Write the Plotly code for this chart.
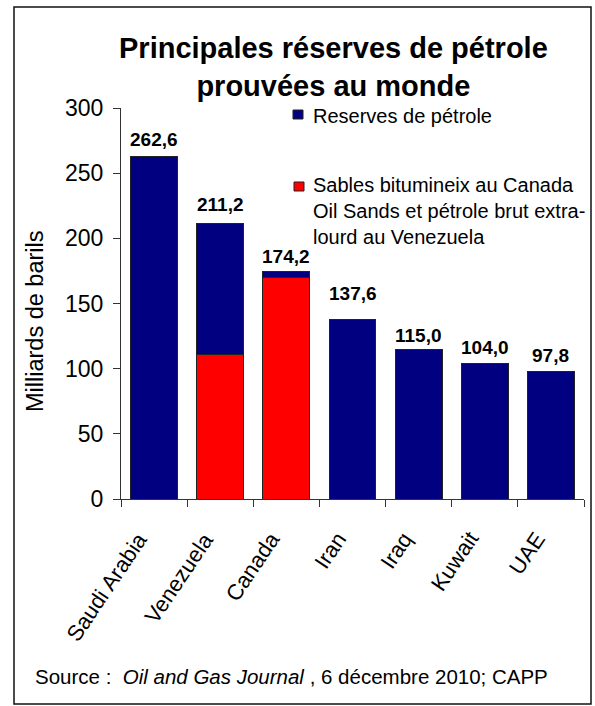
import plotly.graph_objects as go

# Proven oil reserves, billions of barrels (end of 2010)
countries = ["Saudi Arabia", "Venezuela", "Canada", "Iran", "Iraq", "Kuwait", "UAE"]
totals = [262.6, 211.2, 174.2, 137.6, 115.0, 104.0, 97.8]
# Canadian oil sands and Venezuelan extra-heavy crude
oil_sands = [0.0, 111.0, 170.0, 0.0, 0.0, 0.0, 0.0]
# Remaining conventional reserves
conventional = [round(t - s, 1) for t, s in zip(totals, oil_sands)]
total_labels = ["262,6", "211,2", "174,2", "137,6", "115,0", "104,0", "97,8"]
label_shift = [17, 19, 15, 26, 14, 16, 16]

y_ticks = [0, 50, 100, 150, 200, 250, 300]

W, H = 595, 706
ML, MR, MT, MB = 121, 11, 108, 207
PW, PH = W - ML - MR, H - MT - MB

FONT = "Arial, 'Liberation Sans', Helvetica, sans-serif"
NAVY = "#000080"
RED = "#FF0000"
EDGE = "#222222"


def xp(px):
    return (px - ML) / PW


def yp(py):
    return (H - MB - py) / PH


fig = go.Figure()
fig.add_trace(go.Bar(
    x=countries, y=oil_sands, marker=dict(color=RED, line=dict(color=EDGE, width=1)),
    name="Sables bitumineux", showlegend=False, hoverinfo="skip",
))
fig.add_trace(go.Bar(
    x=countries, y=conventional, marker=dict(color=NAVY, line=dict(color=EDGE, width=1)),
    name="Reserves de pétrole", showlegend=False, hoverinfo="skip",
))

annotations = []
# value labels above each bar
for i, (t, lab, s) in enumerate(zip(totals, total_labels, label_shift)):
    annotations.append(dict(
        x=i, y=t, xref="x", yref="y", text=f"<b>{lab}</b>", showarrow=False,
        yanchor="middle", yshift=s, font=dict(family=FONT, size=19, color="black"),
    ))

# slanted category labels, upper-right corner hung under each category
for i, c in enumerate(countries):
    annotations.append(dict(
        x=i, y=yp(526), xref="x", yref="paper", text=c, showarrow=False,
        textangle=-56, xanchor="right", yanchor="top", borderpad=0,
        font=dict(family=FONT, size=22, color="black"),
    ))

# chart title
annotations.append(dict(
    x=xp(333), y=yp(67), xref="paper", yref="paper",
    text="<b>Principales réserves de pétrole<br>prouvées au monde</b>",
    showarrow=False, xanchor="center", yanchor="middle",
    font=dict(family=FONT, size=29, color="black"),
))
# y axis title
annotations.append(dict(
    x=xp(35), y=yp(321), xref="paper", yref="paper", text="Milliards de barils",
    textangle=-90, showarrow=False, xanchor="center", yanchor="middle",
    font=dict(family=FONT, size=23.5, color="black"),
))
# legend entries
annotations.append(dict(
    x=xp(311), y=yp(116), xref="paper", yref="paper", text="Reserves de pétrole",
    showarrow=False, xanchor="left", yanchor="middle",
    font=dict(family=FONT, size=20, color="black"),
))
annotations.append(dict(
    x=xp(311), y=yp(211), xref="paper", yref="paper",
    text="Sables bitumineix au Canada<br>Oil Sands et pétrole brut extra-<br>lourd au Venezuela",
    showarrow=False, xanchor="left", yanchor="middle", align="left",
    font=dict(family=FONT, size=20, color="black"),
))
# source line
annotations.append(dict(
    x=xp(33), y=yp(676), xref="paper", yref="paper",
    text="Source :  <i>Oil and Gas Journal</i> , 6 décembre 2010; CAPP",
    showarrow=False, xanchor="left", yanchor="middle",
    font=dict(family=FONT, size=20.5, color="black"),
))

shapes = [
    # legend swatches
    dict(type="rect", xref="paper", yref="paper", x0=xp(293), x1=xp(303), y0=yp(119), y1=yp(110),
         fillcolor=NAVY, line=dict(color=EDGE, width=1)),
    dict(type="rect", xref="paper", yref="paper", x0=xp(294), x1=xp(304), y0=yp(191), y1=yp(182),
         fillcolor=RED, line=dict(color=EDGE, width=1)),
    # outer frame
    dict(type="rect", xref="paper", yref="paper", x0=xp(14), x1=xp(591), y0=yp(704), y1=yp(7),
         fillcolor="rgba(0,0,0,0)", line=dict(color="#111111", width=1.5), layer="above"),
]

fig.update_layout(
    width=W, height=H,
    margin=dict(l=ML, r=MR, t=MT, b=MB, pad=0),
    barmode="stack", bargap=0.29,
    paper_bgcolor="white", plot_bgcolor="white",
    font=dict(family=FONT, color="black"),
    annotations=annotations, shapes=shapes,
    xaxis=dict(
        type="category", categoryorder="array", categoryarray=countries,
        range=[-0.5, len(countries) - 0.5], autorange=False, showticklabels=False,
        showline=True, linecolor="#333333", linewidth=1,
        ticks="outside", ticklen=7, tickcolor="#333333", tickson="boundaries",
        showgrid=False, zeroline=False, fixedrange=True,
    ),
    yaxis=dict(
        range=[0, 300], tickvals=y_ticks, tickfont=dict(family=FONT, size=23, color="black"),
        ticklabelstandoff=5,
        showline=True, linecolor="#333333", linewidth=1,
        ticks="outside", ticklen=7, tickcolor="#333333",
        showgrid=False, zeroline=False, fixedrange=True,
    ),
)

fig.write_html("out.html")
